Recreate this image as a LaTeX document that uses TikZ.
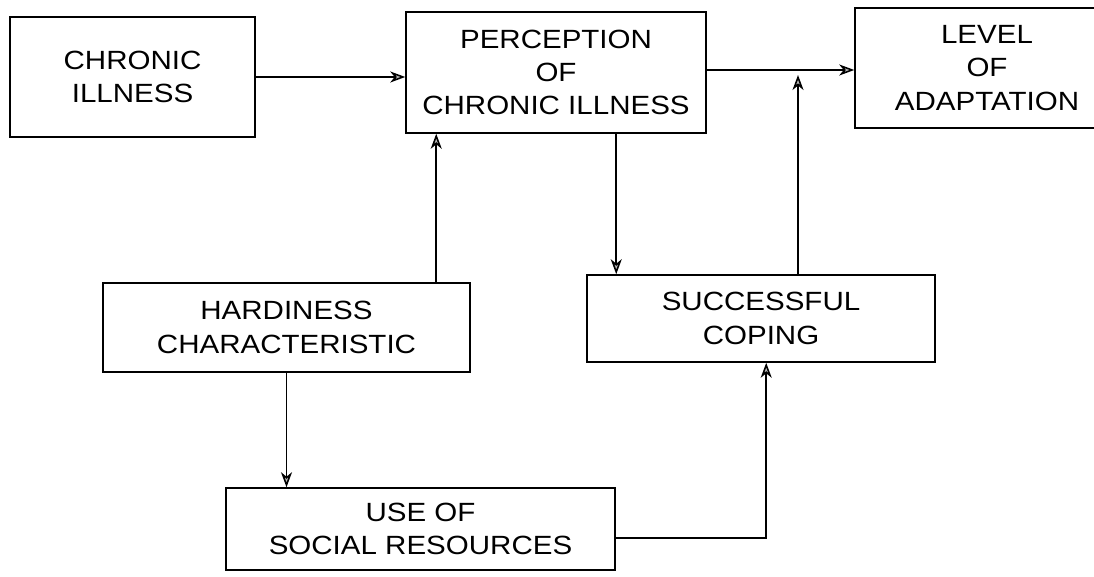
\documentclass[tikz,border=0pt]{standalone}
\usepackage{fontspec}
\setmainfont{Liberation Sans}[FakeStretch=1.12]
\usepackage{tikz}
\usetikzlibrary{arrows.meta}

\begin{document}
\begin{tikzpicture}[x=0.02cm,y=-0.02cm,
	box/.style={draw,line width=0.9pt,align=center,inner sep=0pt,font=\fontsize{15}{19}\selectfont},
	arr/.style={-{Stealth[length=3mm,width=2.2mm,inset=0.9mm,fill=gray!55]},line width=0.9pt}]
	\useasboundingbox (0,0) rectangle (1094,577);
	\clip (0,0) rectangle (1094,577);
	\node[box,minimum width=4.9cm,minimum height=2.4cm] (chronic) at (132.5,77) {CHRONIC\\ILLNESS};
	\node[box,minimum width=6cm,minimum height=2.42cm] (perception) at (556,72.5) {PERCEPTION\\OF\\CHRONIC ILLNESS};
	\node[box,minimum width=5.28cm,minimum height=2.4cm] (level) at (987,68) {LEVEL\\OF\\ADAPTATION};
	\node[box,minimum width=7.34cm,minimum height=1.78cm] (hardiness) at (286.5,327.5) {HARDINESS\\CHARACTERISTIC};
	\node[box,minimum width=6.96cm,minimum height=1.74cm] (coping) at (761,318.5) {SUCCESSFUL\\COPING};
	\node[box,minimum width=7.78cm,minimum height=1.64cm] (social) at (420.5,529) {USE OF\\SOCIAL RESOURCES};
	
	\coordinate (join) at (798,70);
	\coordinate (hp) at ([xshift=0.62cm]perception.south west);
	\coordinate (pc) at ([xshift=0.6cm]coping.north west);
	\coordinate (sc) at ([xshift=3.6cm]coping.south west);
	
	\draw[arr] (chronic.east) to (chronic.east -| perception.west);
	\draw[arr] (perception.east |- join) to (level.west |- join);
	\draw[arr,shorten >=0.1cm] (coping.north -| join) to (join);
	\draw[arr] (hardiness.north -| hp) to (hp);
	\draw[arr] (perception.south -| pc) to (pc);
	\draw[arr] (hardiness.south) to (hardiness.south |- social.north);
	\draw[arr] ([yshift=-0.18cm]social.east) -| (sc);
\end{tikzpicture}
\end{document}
